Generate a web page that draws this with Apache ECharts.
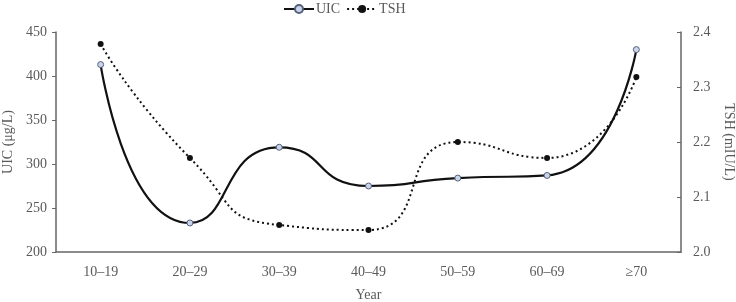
<!DOCTYPE html>
<html>
<head>
<meta charset="utf-8">
<script src="https://cdn.jsdelivr.net/npm/echarts@6/dist/echarts.min.js"></script>
<style>
  html, body { margin: 0; padding: 0; background: #fff; }
  #chart { width: 736px; height: 302px; }
</style>
</head>
<body>
<div id="chart"></div>
<script>
// age groups
const categories = ['10–19', '20–29', '30–39', '40–49', '50–59', '60–69', '≥70']
// UIC (μg/L), left axis
const uicValues = [413, 233, 319, 275, 284, 287, 430]
// TSH (mIU/L), right axis
const tshValues = [2.378, 2.171, 2.049, 2.040, 2.200, 2.171, 2.318]

const font = 'Liberation Serif'
const textColor = '#5a5a5a'
const axisColor = '#666'

const myChart = echarts.init(document.getElementById('chart'))

const option = {
  animation: false,
  textStyle: { fontFamily: font },
  legend: {
    top: 2,
    left: 283,
    padding: 0,
    itemWidth: 30,
    itemHeight: 10,
    itemGap: 6,
    textStyle: { fontFamily: font, fontSize: 14, color: textColor, padding: [0, 0, 0, -3] },
    data: ['UIC', 'TSH']
  },
  grid: { left: 56, right: 55, top: 32, bottom: 50, outerBoundsMode: 'none', containLabel: false },
  xAxis: {
    type: 'category',
    data: categories,
    name: 'Year',
    nameLocation: 'middle',
    nameGap: 36,
    nameTextStyle: { fontFamily: font, fontSize: 14, color: textColor },
    axisLine: { lineStyle: { color: axisColor, width: 1.5 } },
    axisTick: { inside: true, length: 5, lineStyle: { color: axisColor } },
    axisLabel: { fontFamily: font, fontSize: 14, color: textColor, margin: 13 }
  },
  yAxis: [
    {
      type: 'value',
      min: 200,
      max: 450,
      interval: 50,
      name: 'UIC (μg/L)',
      nameLocation: 'middle',
      nameGap: 39,
      nameTextStyle: { fontFamily: font, fontSize: 14, color: textColor },
      axisLine: { show: true, lineStyle: { color: axisColor, width: 1.5 } },
      axisTick: { show: true, length: 4, lineStyle: { color: axisColor } },
      axisLabel: { fontFamily: font, fontSize: 14, color: textColor, margin: 9 },
      splitLine: { show: false }
    },
    {
      type: 'value',
      min: 2.0,
      max: 2.4,
      interval: 0.1,
      position: 'right',
      name: 'TSH (mIU/L)',
      nameLocation: 'middle',
      nameRotate: -90,
      nameGap: 33,
      nameTextStyle: { fontFamily: font, fontSize: 14, color: textColor },
      axisLine: { show: true, lineStyle: { color: axisColor, width: 1.5 } },
      axisTick: { show: true, inside: true, length: 4, lineStyle: { color: axisColor } },
      axisLabel: {
        fontFamily: font, fontSize: 14, color: textColor, margin: 12,
        formatter: v => v.toFixed(1)
      },
      splitLine: { show: false }
    }
  ],
  series: [
    {
      name: 'UIC',
      type: 'line',
      yAxisIndex: 0,
      data: uicValues,
      smooth: 0.6,
      symbol: 'circle',
      symbolSize: 6,
      lineStyle: { color: '#111', width: 2.2 },
      itemStyle: { color: '#c9d5ea', borderColor: '#55607a', borderWidth: 1 }
    },
    {
      name: 'TSH',
      type: 'line',
      yAxisIndex: 1,
      data: tshValues,
      smooth: 0.6,
      symbol: 'circle',
      symbolSize: 6,
      lineStyle: { color: '#111', width: 2, type: [2, 3] },
      itemStyle: { color: '#111', borderColor: '#111', borderWidth: 0 }
    }
  ]
}

myChart.setOption(option)
</script>
</body>
</html>
